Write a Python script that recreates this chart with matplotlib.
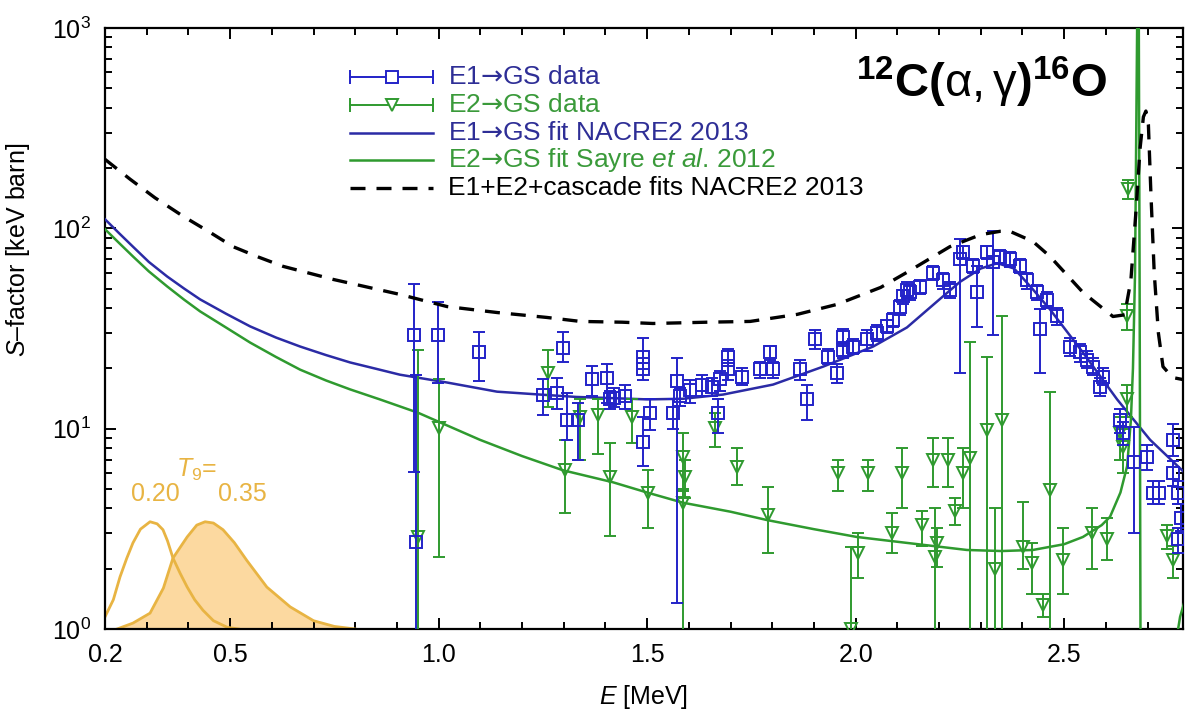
import numpy as np
import matplotlib
matplotlib.use("Agg")
import matplotlib.pyplot as plt
from matplotlib.ticker import FixedLocator, MultipleLocator, LogLocator, NullFormatter

plt.rcParams['font.family'] = ['Liberation Sans', 'DejaVu Sans']
plt.rcParams['mathtext.fontset'] = 'custom'
plt.rcParams['mathtext.rm'] = 'Liberation Sans'
plt.rcParams['mathtext.it'] = 'Liberation Sans:italic'
plt.rcParams['mathtext.bf'] = 'Liberation Sans:bold'
plt.rcParams['mathtext.sf'] = 'DejaVu Sans'

# ---- E1 -> GS data: energy, S-factor, lower / upper end of error bar
e1_x = [0.940, 0.945, 0.999, 1.097, 1.250, 1.284, 1.298, 1.308, 1.334, 1.368,
        1.404, 1.411, 1.420, 1.447, 1.490, 1.490, 1.490, 1.507, 1.572, 1.563,
        1.579, 1.603, 1.632, 1.656, 1.670, 1.675, 1.694, 1.694, 1.728, 1.771,
        1.795, 1.802, 1.867, 1.883, 1.903, 1.934, 1.955, 1.970, 1.970, 1.994,
        2.027, 2.051, 2.075, 2.090, 2.106, 2.114, 2.123, 2.130, 2.154, 2.186,
        2.210, 2.226, 2.250, 2.258, 2.282, 2.291, 2.315, 2.330, 2.346, 2.370,
        2.394, 2.410, 2.435, 2.442, 2.459, 2.483, 2.514, 2.538, 2.555, 2.569,
        2.586, 2.593, 2.634, 2.641, 2.668, 2.699, 2.713, 2.727, 2.761, 2.761,
        2.772, 2.780, 2.772]
e1_y = [29.5, 2.72, 29.2, 24.0, 14.8, 15.1, 25.4, 11.1, 11.1, 17.6,
        18.0, 14.0, 14.3, 14.5, 22.9, 19.8, 8.6, 12.0, 17.2, 12.0,
        14.5, 15.6, 16.6, 16.2, 12.0, 17.6, 22.9, 19.8, 18.2, 19.8,
        24.0, 19.8, 19.8, 14.0, 27.9, 22.9, 19.0, 28.8, 24.8, 25.7,
        27.9, 30.0, 32.4, 35.0, 40.7, 45.7, 49.5, 48.0, 51.0, 60.0,
        55.0, 49.5, 70.0, 76.0, 65.0, 48.0, 76.0, 67.6, 72.0, 70.0,
        65.0, 55.0, 48.0, 31.3, 44.0, 36.3, 25.7, 24.0, 22.1, 20.4,
        16.2, 18.2, 11.0, 9.5, 6.8, 7.2, 4.8, 4.8, 8.8, 6.0,
        4.8, 3.6, 2.8]
e1_lo = [6.1, 0.1, 17.0, 17.2, 11.7, 12.5, 21.4, 8.8, 7.0, 14.5,
         13.5, 12.5, 12.8, 12.5, 19.8, 17.5, 6.5, 9.9, 1.35, 10.0,
         13.0, 13.5, 14.5, 14.5, 9.5, 15.5, 20.5, 17.5, 16.5, 18.0,
         22.0, 18.0, 17.5, 11.1, 25.0, 21.0, 17.0, 26.0, 22.5, 23.5,
         24.5, 27.5, 30.0, 32.0, 37.0, 42.0, 45.0, 44.0, 47.0, 55.0,
         50.0, 45.0, 19.0, 70.0, 60.0, 32.0, 70.0, 29.5, 66.0, 64.0,
         60.0, 50.0, 44.0, 19.0, 40.0, 33.0, 23.0, 21.5, 20.0, 18.5,
         14.5, 16.5, 9.5, 8.3, 3.0, 6.2, 4.2, 4.2, 7.3, 5.2,
         4.2, 3.1, 2.4]
e1_hi = [52.5, 18.6, 43.0, 30.5, 17.6, 18.0, 30.5, 15.0, 13.5, 20.5,
         21.0, 15.5, 16.0, 16.5, 28.5, 22.5, 11.5, 14.0, 22.6, 14.0,
         16.0, 17.5, 18.5, 18.0, 14.0, 19.5, 25.0, 22.0, 20.0, 21.5,
         26.0, 21.5, 22.0, 16.6, 31.0, 25.0, 21.0, 31.5, 27.0, 28.0,
         31.0, 33.0, 35.0, 38.0, 44.0, 49.0, 54.0, 52.0, 55.0, 65.0,
         60.0, 54.0, 88.0, 82.0, 70.0, 65.0, 82.0, 96.6, 78.0, 76.0,
         70.0, 60.0, 52.0, 39.4, 48.0, 40.0, 28.5, 26.5, 24.5, 22.5,
         18.0, 20.0, 12.5, 10.8, 10.2, 8.3, 5.5, 5.5, 10.5, 6.9,
         5.5, 4.2, 3.2]

# ---- E2 -> GS data
e2_x = [0.951, 1.001, 1.262, 1.303, 1.339, 1.383, 1.411, 1.464, 1.502, 1.586,
        1.590, 1.586, 1.663, 1.716, 1.790, 1.958, 2.006, 1.990, 2.030, 2.087,
        2.111, 2.159, 2.186, 2.195, 2.190, 2.222, 2.238, 2.258, 2.274, 2.315,
        2.334, 2.350, 2.401, 2.423, 2.450, 2.466, 2.497, 2.567, 2.603, 2.634,
        2.640, 2.651, 2.651, 2.653, 2.747, 2.761]
e2_y = [2.88, 10.1, 19.0, 6.2, 11.5, 11.7, 5.75, 11.5, 4.8, 7.2,
        5.75, 4.27, 10.1, 6.45, 3.7, 6.0, 2.4, 1.0, 6.0, 3.0,
        6.0, 3.3, 7.0, 2.69, 2.3, 7.0, 3.9, 6.0, 7.1, 9.9,
        2.0, 11.1, 2.57, 2.14, 1.32, 4.96, 2.2, 3.0, 2.8, 9.5,
        8.1, 14.0, 36.3, 157.0, 2.9, 2.2]
e2_lo = [0.1, 2.29, 12.8, 3.8, 7.0, 7.5, 2.9, 8.5, 3.2, 4.9,
         4.5, 0.1, 8.1, 5.25, 2.4, 4.9, 1.8, 0.1, 4.9, 2.4,
         4.0, 2.6, 5.1, 2.04, 0.1, 5.1, 3.3, 4.0, 0.1, 0.1,
         0.1, 0.1, 2.0, 1.5, 1.15, 0.1, 1.5, 2.0, 2.2, 7.0,
         6.0, 11.5, 31.0, 140.0, 2.5, 1.8]
e2_hi = [24.8, 17.6, 24.8, 8.8, 14.0, 14.0, 8.5, 14.0, 6.2, 9.5,
         7.0, 5.0, 12.0, 8.0, 5.1, 7.0, 3.0, 2.57, 7.0, 3.8,
         8.0, 3.9, 9.0, 3.2, 4.0, 9.0, 4.5, 8.0, 27.0, 22.9,
         4.0, 36.3, 4.3, 2.7, 1.5, 15.3, 3.2, 4.0, 3.6, 11.5,
         10.0, 16.5, 42.0, 175.0, 3.3, 2.6]

# ---- fits
e1_fit_x = [0.20, 0.235, 0.267, 0.305, 0.349, 0.39, 0.428, 0.49, 0.548, 0.61,
            0.668, 0.73, 0.788, 0.85, 0.907, 1.02, 1.14, 1.243, 1.33, 1.418,
            1.50, 1.586, 1.682, 1.802, 1.922, 2.042, 2.123, 2.20, 2.25, 2.30,
            2.34, 2.38, 2.42, 2.466, 2.545, 2.627, 2.706, 2.79]
e1_fit_y = [111, 94, 81, 68, 57.5, 50, 44.2, 37.5, 32.4, 28.5,
            25.7, 23.3, 21.4, 19.9, 18.6, 17.0, 15.3, 14.8, 14.4, 14.2,
            14.0, 14.1, 14.8, 16.6, 20.4, 25.7, 32.0, 44.0, 54.0, 63.0,
            67.0, 63.0, 51.0, 39.4, 24.0, 14.0, 8.8, 6.0]

e2_fit_x = [0.20, 0.235, 0.267, 0.305, 0.349, 0.39, 0.428, 0.49, 0.548, 0.61,
            0.668, 0.73, 0.788, 0.859, 0.951, 1.099, 1.20, 1.298, 1.418, 1.50,
            1.586, 1.70, 1.787, 1.90, 2.003, 2.123, 2.267, 2.35, 2.425, 2.50,
            2.545, 2.59, 2.61, 2.635, 2.651, 2.660, 2.665, 2.670, 2.675, 2.678,
            2.681, 2.683, 2.686, 2.72, 2.75, 2.778, 2.79]
e2_fit_y = [99, 84, 72.4, 61, 51.3, 44, 38.5, 32, 26.9, 22.8,
            19.7, 17.4, 15.7, 14.0, 12.0, 8.8, 7.3, 6.2, 5.4, 4.8,
            4.27, 3.85, 3.5, 3.15, 2.88, 2.69, 2.48, 2.45, 2.48, 2.65,
            2.88, 3.3, 3.63, 4.8, 6.5, 11.0, 20.0, 60.0, 1000.0, 5000.0,
            50.0, 1.0, 0.3, 0.3, 0.5, 1.15, 1.4]

tot_x = [0.20, 0.26, 0.32, 0.387, 0.45, 0.507, 0.567, 0.627, 0.747, 0.907,
         1.02, 1.14, 1.26, 1.34, 1.44, 1.514, 1.644, 1.747, 1.86, 1.955,
         2.06, 2.123, 2.226, 2.30, 2.346, 2.37, 2.425, 2.466, 2.545, 2.617,
         2.645, 2.660, 2.672, 2.682, 2.690, 2.696, 2.702, 2.708, 2.716, 2.726,
         2.737, 2.76, 2.79]
tot_y = [221, 176, 142, 115, 96, 81, 72, 64.6, 55.6, 46.8,
         40.7, 38.0, 35.9, 34.3, 34.0, 33.5, 34.0, 34.3, 37.2, 41.7,
         50.7, 60.3, 81.0, 93.0, 96.6, 96.6, 86.0, 72.4, 47.9, 36.3,
         37.0, 55.0, 120.0, 250.0, 360.0, 385.0, 330.0, 150.0, 60.0, 30.0,
         20.4, 18.0, 17.5]

# ---- Gamow windows
g20_x = [0.20, 0.22, 0.236, 0.252, 0.267, 0.285, 0.308, 0.325, 0.339, 0.35,
         0.363, 0.38, 0.397, 0.415, 0.435, 0.46, 0.493, 0.52]
g20_y = [1.15, 1.4, 1.82, 2.25, 2.69, 3.15, 3.43, 3.35, 3.13, 2.75,
         2.26, 1.9, 1.62, 1.4, 1.24, 1.1, 1.02, 1.0]
g35_x = [0.229, 0.267, 0.308, 0.34, 0.363, 0.397, 0.42, 0.44, 0.46, 0.483,
         0.51, 0.54, 0.588, 0.644, 0.70, 0.75, 0.80]
g35_y = [1.0, 1.07, 1.2, 1.6, 2.26, 2.88, 3.3, 3.43, 3.38, 3.13,
         2.7, 2.2, 1.62, 1.29, 1.1, 1.03, 1.0]

blue = '#2323c8'
blue_fit = '#2b2ba5'
blue_txt = '#2e2e96'
green = '#2f9a2f'
green_txt = '#3a9a3a'
gold = '#e8b443'
gold_fill = '#fcd9a0'

fig = plt.figure(figsize=(11.85, 7.16), dpi=100)
ax = fig.add_axes([105/1185, 1-629/716, (1183-105)/1185, (629-28)/716])
ax.set_yscale('log')
ax.set_xlim(0.2, 2.785)
ax.set_ylim(1, 1000)

# Gamow peaks
ax.fill_between(g35_x, 1, g35_y, color=gold_fill, lw=0, zorder=1)
ax.plot(g35_x, g35_y, color=gold, lw=2, zorder=2)
ax.plot(g20_x, g20_y, color=gold, lw=2, zorder=2)

# fits
ax.plot(e1_fit_x, e1_fit_y, color=blue_fit, lw=1.8, zorder=3)
ax.plot(e2_fit_x, e2_fit_y, color=green, lw=1.8, zorder=3)
ax.plot(tot_x, tot_y, color='black', lw=2.4, dashes=(4.5, 3.3), zorder=6)

# data
e1_y_arr = np.array(e1_y)
e1_err = [e1_y_arr - np.array(e1_lo), np.array(e1_hi) - e1_y_arr]
ax.errorbar(e1_x, e1_y, yerr=e1_err, fmt='s', ms=9, mfc='none', mec=blue,
            mew=1.4, ecolor=blue, elinewidth=1.4, capsize=4, capthick=1.4, zorder=5)
e2_y_arr = np.array(e2_y)
e2_err = [e2_y_arr - np.array(e2_lo), np.array(e2_hi) - e2_y_arr]
ax.errorbar(e2_x, e2_y, yerr=e2_err, fmt='v', ms=9, mfc='none', mec=green,
            mew=1.4, ecolor=green, elinewidth=1.4, capsize=4, capthick=1.4, zorder=4)

# axes styling
for s in ax.spines.values():
    s.set_linewidth(1.6)
ax.xaxis.set_major_locator(FixedLocator([0.2, 0.5, 1.0, 1.5, 2.0, 2.5]))
ax.set_xticklabels(['0.2', '0.5', '1.0', '1.5', '2.0', '2.5'])
ax.xaxis.set_minor_locator(MultipleLocator(0.1))
ax.yaxis.set_major_locator(LogLocator(base=10, numticks=10))
ax.yaxis.set_minor_locator(LogLocator(base=10, subs=np.arange(2, 10), numticks=10))
ax.yaxis.set_minor_formatter(NullFormatter())
ax.tick_params(which='both', direction='in', top=True, right=True, width=1.4,
               labelsize=18, colors='black')
ax.tick_params(which='major', length=8, pad=10)
ax.tick_params(which='minor', length=5)

ax.set_xlabel('$E$ [MeV]', fontsize=18)
ax.xaxis.set_label_coords(0.5, -0.09)
ax.set_ylabel('$S$\u2013factor [keV barn]', fontsize=18)
ax.yaxis.set_label_coords(-0.068, 0.63)

# reaction label
ax.text(0.9295, 0.885,
        r'$\mathbf{{}^{12}C(}\mathrm{\alpha},\mathrm{\gamma}\mathbf{)^{16}O}$',
        transform=ax.transAxes, ha='right', va='baseline', fontsize=34)

# Gamow labels
ax.text(0.085, 0.265, '$T_9$=', transform=ax.transAxes, color=gold,
        fontsize=18, ha='center', va='center')
ax.text(0.0465, 0.225, '0.20', transform=ax.transAxes, color=gold,
        fontsize=18, ha='center', va='center')
ax.text(0.127, 0.225, '0.35', transform=ax.transAxes, color=gold,
        fontsize=18, ha='center', va='center')

# legend (drawn by hand, gnuplot style)
def px2ax(px, py):
    return (px - 105) / 1078, (629 - py) / 601

arrow = '$\\mathsf{\u2192}$'
rows = [
    ('E1' + arrow + 'GS data', blue_txt, 'e1'),
    ('E2' + arrow + 'GS data', green_txt, 'e2'),
    ('E1' + arrow + 'GS fit NACRE2 2013', blue_txt, 'l1'),
    ('E2' + arrow + 'GS fit Sayre $\\it{et\\ al}$. 2012', green_txt, 'l2'),
    ('E1+E2+cascade fits NACRE2 2013', 'black', 'tot'),
]
for i, (lab, col, kind) in enumerate(rows):
    py = 77 + 27.8 * i
    x0, yy = px2ax(350, py)
    x1, _ = px2ax(433, py)
    xm, _ = px2ax(392, py)
    xt, _ = px2ax(448, py)
    kw = dict(transform=ax.transAxes, clip_on=False, zorder=7)
    if kind in ('e1', 'e2'):
        c = blue if kind == 'e1' else green
        ax.plot([x0, x1], [yy, yy], color=c, lw=1.4, **kw)
        ax.plot([x0, x1], [yy, yy], ls='none', marker='|', ms=10, mew=1.4, color=c, **kw)
        ax.plot([xm], [yy], ls='none', marker='s' if kind == 'e1' else 'v', ms=8,
                mfc='white', mec=c, mew=1.4, **kw)
    elif kind == 'l1':
        ax.plot([x0, x1], [yy, yy], color=blue_fit, lw=1.8, **kw)
    elif kind == 'l2':
        ax.plot([x0, x1], [yy, yy], color=green, lw=1.8, **kw)
    else:
        ax.plot([x0, x1], [yy, yy], color='black', lw=2.4, dashes=(4.5, 3.3), **kw)
    ax.text(xt, yy, lab, color=col, fontsize=19, transform=ax.transAxes,
            ha='left', va='center')

fig.savefig('out.png', dpi=100)
